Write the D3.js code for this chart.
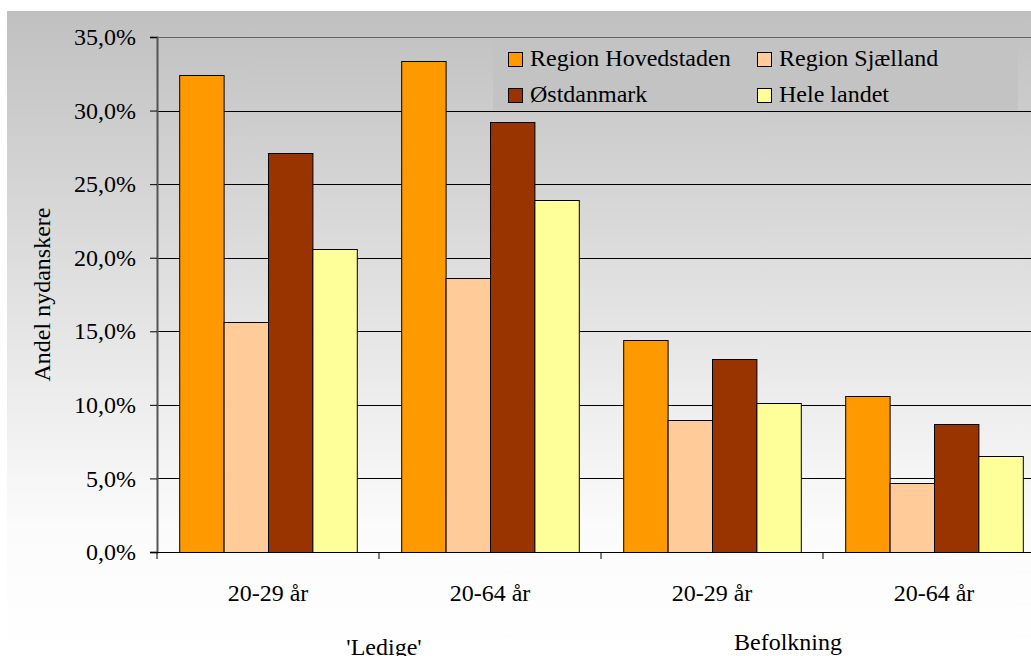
<!DOCTYPE html>
<html>
<head>
<meta charset="utf-8">
<script src="https://cdn.jsdelivr.net/npm/d3@7"></script>
<style>
  body { margin: 0; background: #fff; }
  svg text { font-family: "Liberation Serif", "DejaVu Serif", serif; }
</style>
</head>
<body>
<svg width="1031" height="656"></svg>
<script>
var groups = ["20-29 år", "20-64 år", "20-29 år", "20-64 år"];
var groupIds = ["L1", "L2", "B1", "B2"];
var superLabels = ["'Ledige'", "Befolkning"];
var series = ["Region Hovedstaden", "Region Sjælland", "Østdanmark", "Hele landet"];
var colors = ["#ff9900", "#ffcc99", "#993300", "#ffff99"];
var hovedstaden = [32.4, 33.4, 14.4, 10.6];
var sjaelland = [15.6, 18.6, 9.0, 4.7];
var ostdanmark = [27.1, 29.2, 13.1, 8.7];
var heleLandet = [20.6, 23.9, 10.1, 6.5];
var yTicks = [0, 5, 10, 15, 20, 25, 30, 35];

var values = [hovedstaden, sjaelland, ostdanmark, heleLandet];
var FONT = "'Liberation Serif', 'DejaVu Serif', serif";

var svg = d3.select("svg"),
    margin = {top: 37, left: 157},
    width = 888,
    height = 515;

// background gradient (grey at top fading to white)
var defs = svg.append("defs");
var grad = defs.append("linearGradient")
    .attr("id", "bg")
    .attr("x1", 0).attr("y1", 0).attr("x2", 0).attr("y2", 1);
grad.append("stop").attr("offset", "0%").attr("stop-color", "#c0c0c0");
grad.append("stop").attr("offset", "45%").attr("stop-color", "#e2e2e2");
grad.append("stop").attr("offset", "80%").attr("stop-color", "#fbfbfb");
grad.append("stop").attr("offset", "100%").attr("stop-color", "#ffffff");

svg.append("rect")
    .attr("x", 7).attr("y", 11)
    .attr("width", 1024).attr("height", 645)
    .attr("fill", "url(#bg)");

var x0 = d3.scaleBand()
    .domain(groupIds)
    .range([0, width])
    .paddingInner(0.2)
    .paddingOuter(0.1);

// outer step without padding for the group ticks
var xStep = d3.scaleBand().domain(groupIds).range([0, width]);

var x1 = d3.scaleBand()
    .domain(series)
    .range([0, x0.bandwidth()]);

var y = d3.scaleLinear()
    .domain([0, 35])
    .range([height, 0]);

var fmt = function(d) { return d3.format(".1f")(d).replace(".", ",") + "%"; };

var g = svg.append("g")
    .attr("transform", "translate(" + margin.left + "," + margin.top + ")");

// gridlines
g.append("g")
    .selectAll("line")
    .data(yTicks.slice(1))
    .enter().append("line")
      .attr("x1", 0)
      .attr("x2", width)
      .attr("y1", function(d) { return Math.round(y(d)) + 0.5; })
      .attr("y2", function(d) { return Math.round(y(d)) + 0.5; })
      .attr("stroke", function(d) { return d == 35 ? "#666" : "#000"; })
      .attr("stroke-width", 1);

// legend box
var legend = g.append("g")
    .attr("transform", "translate(" + (336) + ",1)");

legend.append("rect")
    .attr("width", 525)
    .attr("height", 72)
    .attr("fill", "#c3c3c3");

legend.selectAll(".item")
    .data(series)
    .enter().append("g")
      .attr("class", "item")
      .attr("transform", function(d, i) {
        return "translate(" + (15 + (i % 2) * 249) + "," + (14 + Math.floor(i / 2) * 36) + ")";
      })
      .each(function(d, i) {
        var item = d3.select(this);
        item.append("rect")
          .attr("width", 14).attr("height", 14)
          .attr("x", 0.5).attr("y", 0.5)
          .attr("fill", colors[i])
          .attr("stroke", "#000");
        item.append("text")
          .attr("x", 22)
          .attr("y", 14)
          .text(d);
      });

// bars
var bars = g.selectAll(".grp")
    .data(groupIds)
    .enter().append("g")
      .attr("class", "grp")
      .attr("transform", function(d) { return "translate(" + x0(d) + ",0)"; });

bars.selectAll("rect")
    .data(function(d, gi) {
      return series.map(function(s, si) { return {s: s, i: si, v: values[si][gi]}; });
    })
    .enter().append("rect")
      .attr("x", function(d) { return x1(d.s) + 0.5; })
      .attr("y", function(d) { return Math.round(y(d.v)) + 0.5; })
      .attr("width", x1.bandwidth())
      .attr("height", function(d) { return height - Math.round(y(d.v)); })
      .attr("fill", function(d) { return colors[d.i]; })
      .attr("stroke", "#000")
      .attr("stroke-width", 1);

// y axis
var yAxis = g.append("g")
    .call(d3.axisLeft(y).tickValues(yTicks).tickFormat(fmt).tickSize(7).tickPadding(14));
yAxis.select(".domain").attr("stroke", "#555").attr("stroke-width", 2);
yAxis.selectAll(".tick line").attr("stroke", "#000");
yAxis.selectAll("text").attr("fill", "#000");

// x axis with group boundary ticks
var xAxisG = g.append("g")
    .attr("transform", "translate(0," + height + ")");
xAxisG.append("line")
    .attr("x1", 0).attr("x2", width)
    .attr("y1", 0.5).attr("y2", 0.5)
    .attr("stroke", "#000");
xAxisG.selectAll(".btick")
    .data(groupIds.concat(["end"]))
    .enter().append("line")
      .attr("x1", function(d) { return d == "end" ? width : xStep(d); })
      .attr("x2", function(d) { return d == "end" ? width : xStep(d); })
      .attr("y1", 0).attr("y2", 7)
      .attr("stroke", "#000");

xAxisG.selectAll(".lbl")
    .data(groupIds)
    .enter().append("text")
      .attr("x", function(d) { return x0(d) + x0.bandwidth() / 2; })
      .attr("y", 49)
      .attr("text-anchor", "middle")
      .text(function(d, i) { return groups[i]; });

// super-category labels
var superPos = [
  {x: (xStep("L1") + xStep("L2") + xStep.bandwidth()) / 2 + 5, y: 103},
  {x: (xStep("B1") + xStep("B2") + xStep.bandwidth()) / 2 - 35, y: 98}
];
xAxisG.selectAll(".super")
    .data(superLabels)
    .enter().append("text")
      .attr("x", function(d, i) { return superPos[i].x; })
      .attr("y", function(d, i) { return superPos[i].y; })
      .attr("text-anchor", "middle")
      .text(function(d) { return d; });

// y axis title
svg.append("text")
    .attr("transform", "translate(50," + (margin.top + height / 2) + ") rotate(-90)")
    .attr("text-anchor", "middle")
    .text("Andel nydanskere");

svg.selectAll("text")
    .attr("font-family", FONT)
    .style("font-family", FONT)
    .style("font-size", "24px")
    .attr("font-size", null);
</script>
</body>
</html>
